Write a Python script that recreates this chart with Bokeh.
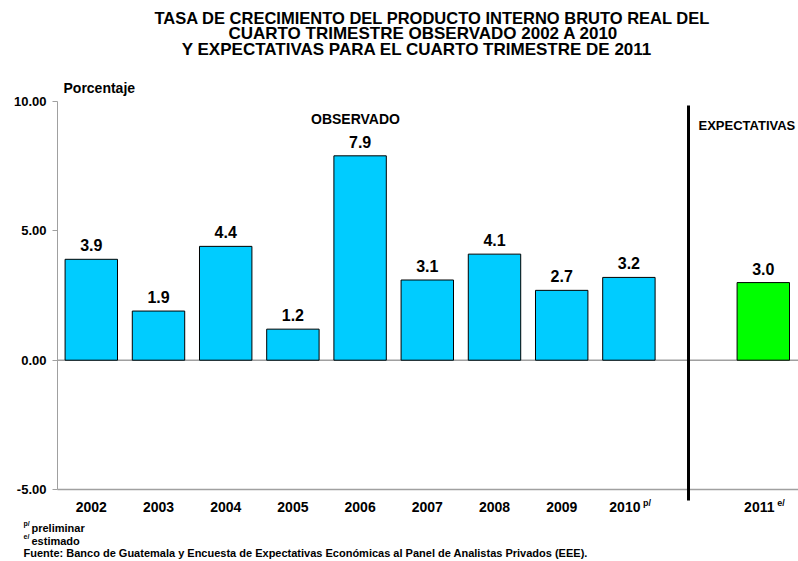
from bokeh.plotting import figure
from bokeh.models import Range1d, FixedTicker, ColumnDataSource, NumeralTickFormatter, LinearAxis
from bokeh.core.properties import value
from bokeh.embed import file_html
from bokeh.resources import INLINE

years = ["2002", "2003", "2004", "2005", "2006", "2007", "2008", "2009", "2010", "2011"]
values = [3.9, 1.9, 4.4, 1.2, 7.9, 3.1, 4.1, 2.7, 3.2, 3.0]
xpos = [0, 1, 2, 3, 4, 5, 6, 7, 8, 10]
colors = ["#00CCFF"] * 9 + ["#00FF00"]
superscripts = ["", "", "", "", "", "", "", "", "p/", "e/"]
yticks = [-5, 0, 5, 10]
title_lines = ["TASA DE CRECIMIENTO DEL PRODUCTO INTERNO BRUTO REAL DEL",
               "CUARTO TRIMESTRE OBSERVADO 2002 A 2010",
               "Y EXPECTATIVAS PARA EL CUARTO TRIMESTRE  DE 2011"]
notes = ["preliminar", "estimado",
         "Fuente:  Banco de Guatemala y Encuesta de Expectativas Económicas al Panel de Analistas Privados (EEE)."]

FONT = "Liberation Sans"
W, H = 798, 561
# pixel geometry of the frame (frame = whole canvas)
PX_X0, PX_DX = 90.8, 67.2      # pixel of x=0, pixels per slot
PX_Y0, PX_DY = 359.7, 25.87    # pixel of y=0, pixels per unit

def dx(px):
    return (px - PX_X0) / PX_DX

def dy(py):
    return (PX_Y0 - py) / PX_DY

p = figure(width=W, height=H, output_backend="svg", toolbar_location=None,
           x_range=Range1d(dx(0), dx(W)), y_range=Range1d(dy(H), dy(0)),
           min_border=0, x_axis_location=None, y_axis_location=None)
p.outline_line_color = None
p.grid.visible = False

ya = LinearAxis(fixed_location=dx(57))
ya.ticker = FixedTicker(ticks=yticks)
ya.bounds = (-5, 10)
ya.formatter = NumeralTickFormatter(format="0.00")
ya.axis_line_color = "#A0A0A0"
ya.major_tick_line_color = "#A0A0A0"
ya.major_tick_out = 5
ya.major_tick_in = 0
ya.minor_tick_line_color = None
ya.major_label_standoff = 6
ya.major_label_text_font = FONT
ya.major_label_text_font_style = "bold"
ya.major_label_text_font_size = "13px"
ya.major_label_text_color = "black"
p.add_layout(ya, "left")

# zero line and bottom line, from the axis to the right edge
p.segment(x0=[dx(57)] * 2, x1=[dx(W)] * 2, y0=[0, -5], y1=[0, -5],
          line_color="#A0A0A0", line_width=1.5)

src = ColumnDataSource(dict(x=xpos, top=values, color=colors,
                            lab=[f"{v:.1f}" for v in values]))
p.vbar(x="x", top="top", bottom=0, width=0.78, fill_color="color", line_color="black",
       line_width=1, source=src)
p.text(x="x", y="top", text="lab", source=src, text_align="center", text_baseline="bottom",
       y_offset=-8, text_font=value(FONT), text_font_style="bold", text_font_size="16px",
       text_color="black")

# divider between observed and expected
p.segment(x0=[dx(688)], y0=[dy(105)], x1=[dx(688)], y1=[dy(500)], line_color="black", line_width=3)

def lab(X, Y, text, size, align="center", baseline="middle"):
    p.text(x=[dx(X)], y=[dy(Y)], text=[text], text_align=align, text_baseline=baseline,
           text_font=value(FONT), text_font_style="bold", text_font_size=size,
           text_color="black")

# year labels under the axis
yl = ColumnDataSource(dict(x=xpos, yb=[-5] * len(xpos), yr=years, sup=superscripts,
                           shift=[-4 if s else 0 for s in superscripts]))
p.text(x="x", y="yb", text="yr", source=yl, x_offset="shift", y_offset=17,
       text_align="center", text_baseline="middle", text_font=value(FONT),
       text_font_style="bold", text_font_size="14px", text_color="black")
p.text(x="x", y="yb", text="sup", source=yl, x_offset=14, y_offset=13,
       text_align="left", text_baseline="middle", text_font=value(FONT),
       text_font_style="bold", text_font_size="9px", text_color="black")

# title
lab(432, 17, title_lines[0], "16.5px")
lab(423, 33, title_lines[1], "17px")
lab(419, 49, title_lines[2], "17px")

lab(63, 87, "Porcentaje", "14px", align="left")
lab(355, 118, "OBSERVADO", "14px")
lab(698, 125, "EXPECTATIVAS", "13px", align="left")

# footnotes
lab(23, 523, "p/", "7px", align="left")
lab(31, 527, notes[0], "11px", align="left")
lab(23, 536, "e/", "7px", align="left")
lab(31, 540, notes[1], "11px", align="left")
lab(23, 552, notes[2], "11px", align="left")

open("out.html", "w").write(file_html(p, INLINE))
